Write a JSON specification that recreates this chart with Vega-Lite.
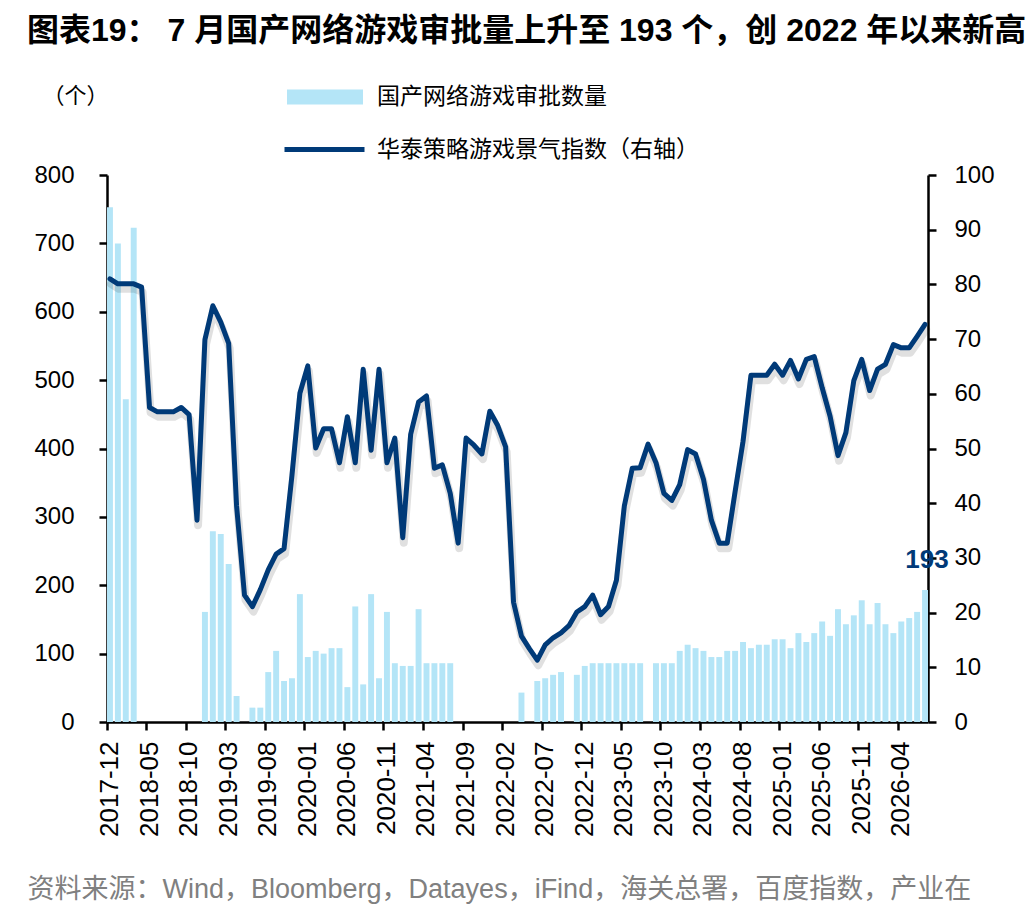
{
  "$schema": "https://vega.github.io/schema/vega-lite/v6.json",
  "width": 821,
  "height": 547,
  "autosize": {"type": "none"},
  "padding": {"left": 107, "top": 175, "right": 108, "bottom": 190},
  "background": "white",
  "config": {"view": {"stroke": null}},
  "title": {
    "text": "图表19： 7 月国产网络游戏审批量上升至 193 个，创 2022 年以来新高",
    "anchor": "start",
    "frame": "group",
    "font": "Liberation Sans, Noto Sans CJK SC",
    "fontSize": 32,
    "fontWeight": "bold",
    "color": "#000000",
    "dx": -80,
    "dy": -11,
    "offset": 0
  },
  "data": {
    "values": [
      {"m": "2017-12", "n": 753, "idx": 81.0},
      {"m": "2018-01", "n": 700, "idx": 80.1},
      {"m": "2018-02", "n": 472, "idx": 80.1},
      {"m": "2018-03", "n": 723, "idx": 80.1},
      {"m": "2018-04", "n": null, "idx": 79.5},
      {"m": "2018-05", "n": null, "idx": 57.5},
      {"m": "2018-06", "n": null, "idx": 56.7},
      {"m": "2018-07", "n": null, "idx": 56.7},
      {"m": "2018-08", "n": null, "idx": 56.7},
      {"m": "2018-09", "n": null, "idx": 57.5},
      {"m": "2018-10", "n": null, "idx": 56.2},
      {"m": "2018-11", "n": null, "idx": 36.9},
      {"m": "2018-12", "n": 161, "idx": 69.9},
      {"m": "2019-01", "n": 279, "idx": 76.1},
      {"m": "2019-02", "n": 275, "idx": 73.1},
      {"m": "2019-03", "n": 231, "idx": 69.2},
      {"m": "2019-04", "n": 38, "idx": 39.5},
      {"m": "2019-05", "n": null, "idx": 23.2},
      {"m": "2019-06", "n": 21, "idx": 21.1},
      {"m": "2019-07", "n": 21, "idx": 24.2},
      {"m": "2019-08", "n": 73, "idx": 27.8},
      {"m": "2019-09", "n": 104, "idx": 30.7},
      {"m": "2019-10", "n": 60, "idx": 31.7},
      {"m": "2019-11", "n": 64, "idx": 45.1},
      {"m": "2019-12", "n": 187, "idx": 60.1},
      {"m": "2020-01", "n": 95, "idx": 65.1},
      {"m": "2020-02", "n": 104, "idx": 50.1},
      {"m": "2020-03", "n": 100, "idx": 53.6},
      {"m": "2020-04", "n": 108, "idx": 53.6},
      {"m": "2020-05", "n": 108, "idx": 47.4},
      {"m": "2020-06", "n": 51, "idx": 55.8},
      {"m": "2020-07", "n": 169, "idx": 47.4},
      {"m": "2020-08", "n": 55, "idx": 64.5},
      {"m": "2020-09", "n": 187, "idx": 49.7},
      {"m": "2020-10", "n": 64, "idx": 64.5},
      {"m": "2020-11", "n": 161, "idx": 47.4},
      {"m": "2020-12", "n": 86, "idx": 51.9},
      {"m": "2021-01", "n": 82, "idx": 33.7},
      {"m": "2021-02", "n": 82, "idx": 52.6},
      {"m": "2021-03", "n": 165, "idx": 58.5},
      {"m": "2021-04", "n": 86, "idx": 59.6},
      {"m": "2021-05", "n": 86, "idx": 46.4},
      {"m": "2021-06", "n": 86, "idx": 47.0},
      {"m": "2021-07", "n": 86, "idx": 41.8},
      {"m": "2021-08", "n": null, "idx": 32.7},
      {"m": "2021-09", "n": null, "idx": 51.9},
      {"m": "2021-10", "n": null, "idx": 50.6},
      {"m": "2021-11", "n": null, "idx": 49.0},
      {"m": "2021-12", "n": null, "idx": 56.8},
      {"m": "2022-01", "n": null, "idx": 54.2},
      {"m": "2022-02", "n": null, "idx": 50.3},
      {"m": "2022-03", "n": null, "idx": 21.9},
      {"m": "2022-04", "n": 43, "idx": 15.7},
      {"m": "2022-05", "n": null, "idx": 13.4},
      {"m": "2022-06", "n": 60, "idx": 11.3},
      {"m": "2022-07", "n": 64, "idx": 14.1},
      {"m": "2022-08", "n": 69, "idx": 15.4},
      {"m": "2022-09", "n": 73, "idx": 16.3},
      {"m": "2022-10", "n": null, "idx": 17.6},
      {"m": "2022-11", "n": 69, "idx": 20.1},
      {"m": "2022-12", "n": 82, "idx": 21.1},
      {"m": "2023-01", "n": 86, "idx": 23.2},
      {"m": "2023-02", "n": 86, "idx": 19.6},
      {"m": "2023-03", "n": 86, "idx": 21.1},
      {"m": "2023-04", "n": 86, "idx": 25.9},
      {"m": "2023-05", "n": 86, "idx": 39.5},
      {"m": "2023-06", "n": 86, "idx": 46.4},
      {"m": "2023-07", "n": 86, "idx": 46.5},
      {"m": "2023-08", "n": null, "idx": 50.8},
      {"m": "2023-09", "n": 86, "idx": 47.4},
      {"m": "2023-10", "n": 86, "idx": 41.8},
      {"m": "2023-11", "n": 86, "idx": 40.5},
      {"m": "2023-12", "n": 104, "idx": 43.4},
      {"m": "2024-01", "n": 113, "idx": 49.8},
      {"m": "2024-02", "n": 108, "idx": 49.0},
      {"m": "2024-03", "n": 104, "idx": 44.4},
      {"m": "2024-04", "n": 95, "idx": 36.9},
      {"m": "2024-05", "n": 95, "idx": 32.7},
      {"m": "2024-06", "n": 104, "idx": 32.7},
      {"m": "2024-07", "n": 104, "idx": 42.1},
      {"m": "2024-08", "n": 117, "idx": 51.3},
      {"m": "2024-09", "n": 108, "idx": 63.4},
      {"m": "2024-10", "n": 113, "idx": 63.4},
      {"m": "2024-11", "n": 113, "idx": 63.4},
      {"m": "2024-12", "n": 121, "idx": 65.4},
      {"m": "2025-01", "n": 121, "idx": 63.4},
      {"m": "2025-02", "n": 108, "idx": 66.1},
      {"m": "2025-03", "n": 130, "idx": 62.7},
      {"m": "2025-04", "n": 117, "idx": 66.3},
      {"m": "2025-05", "n": 130, "idx": 66.8},
      {"m": "2025-06", "n": 147, "idx": 61.1},
      {"m": "2025-07", "n": 126, "idx": 55.9},
      {"m": "2025-08", "n": 165, "idx": 48.7},
      {"m": "2025-09", "n": 143, "idx": 52.9},
      {"m": "2025-10", "n": 156, "idx": 62.4},
      {"m": "2025-11", "n": 178, "idx": 66.3},
      {"m": "2025-12", "n": 143, "idx": 60.6},
      {"m": "2026-01", "n": 174, "idx": 64.5},
      {"m": "2026-02", "n": 143, "idx": 65.4},
      {"m": "2026-03", "n": 130, "idx": 69.0},
      {"m": "2026-04", "n": 147, "idx": 68.4},
      {"m": "2026-05", "n": 152, "idx": 68.4},
      {"m": "2026-06", "n": 161, "idx": 70.5},
      {"m": "2026-07", "n": 193, "idx": 72.7}
    ]
  },
  "layer": [
    {
      "encoding": {
        "x": {
          "field": "m",
          "type": "ordinal",
          "scale": {"type": "band", "paddingInner": 0.25, "paddingOuter": 0},
          "axis": {
            "values": ["2017-12", "2018-05", "2018-10", "2019-03", "2019-08", "2020-01", "2020-06", "2020-11", "2021-04", "2021-09", "2022-02", "2022-07", "2022-12", "2023-05", "2023-10", "2024-03", "2024-08", "2025-01", "2025-06", "2025-11", "2026-04"],
            "bandPosition": 0,
            "labelAngle": -90,
            "labelFont": "Liberation Sans",
            "labelFontSize": 26,
            "labelColor": "#000000",
            "labelPadding": 11,
            "labelOverlap": false,
            "tickSize": 8,
            "tickWidth": 2.5,
            "tickColor": "#000000",
            "domainColor": "#000000",
            "domainWidth": 2.5,
            "title": "资料来源：Wind，Bloomberg，Datayes，iFind，海关总署，百度指数，产业在",
            "titleAngle": 0,
            "titleX": -80,
            "titleY": 167,
            "titleAlign": "left",
            "titleBaseline": "middle",
            "titleFont": "Liberation Sans, Noto Sans CJK SC",
            "titleFontSize": 27,
            "titleFontWeight": "normal",
            "titleColor": "#808080",
            "titleLimit": 1100
          }
        },
        "y": {
          "field": "n",
          "type": "quantitative",
          "scale": {"domain": [0, 800], "nice": false},
          "axis": {
            "values": [0, 100, 200, 300, 400, 500, 600, 700, 800],
            "grid": false,
            "labelFont": "Liberation Sans",
            "labelFontSize": 24,
            "labelColor": "#000000",
            "labelAlign": "right",
            "labelPadding": 25,
            "tickSize": 8,
            "tickWidth": 2.5,
            "tickColor": "#000000",
            "domainColor": "#000000",
            "domainWidth": 2.5,
            "title": "（个）",
            "titleAngle": 0,
            "titleX": -32,
            "titleY": -80,
            "titleAlign": "center",
            "titleBaseline": "middle",
            "titleFont": "Noto Sans CJK SC",
            "titleFontSize": 22,
            "titleFontWeight": "normal",
            "titleColor": "#000000"
          }
        }
      },
      "layer": [
        {
          "transform": [{"filter": "datum.n != null"}],
          "mark": {"type": "bar"},
          "encoding": {
            "fill": {
              "datum": "国产网络游戏审批数量",
              "scale": {"range": ["#b4e5f7"]},
              "legend": {
                "orient": "none",
                "legendX": 180,
                "legendY": -116,
                "title": null,
                "padding": 0,
                "symbolType": "M-1,-0.2H1V0.2H-1Z",
                "symbolSize": 5776,
                "symbolStrokeWidth": 0,
                "labelFont": "Noto Sans CJK SC",
                "labelFontSize": 23,
                "labelColor": "#000000",
                "labelOffset": 14,
                "labelLimit": 600
              }
            }
          }
        },
        {
          "transform": [{"filter": "datum.m == '2026-07'"}],
          "mark": {"type": "text", "font": "Liberation Sans", "fontSize": 26, "fontWeight": "bold", "color": "#003a78", "baseline": "alphabetic", "dy": -22, "dx": 2},
          "encoding": {"text": {"field": "n", "type": "quantitative"}}
        }
      ]
    },
    {
      "encoding": {
        "x": {"field": "m", "type": "ordinal"},
        "y": {
          "field": "idx",
          "type": "quantitative",
          "scale": {"domain": [0, 100], "nice": false},
          "axis": {
            "orient": "right",
            "values": [0, 10, 20, 30, 40, 50, 60, 70, 80, 90, 100],
            "grid": false,
            "labelFont": "Liberation Sans",
            "labelFontSize": 24,
            "labelColor": "#000000",
            "labelPadding": 18,
            "tickSize": 8,
            "tickWidth": 2.5,
            "tickColor": "#000000",
            "domainColor": "#000000",
            "domainWidth": 2.5,
            "title": null
          }
        }
      },
      "layer": [
        {
          "mark": {"type": "line", "strokeWidth": 8, "strokeJoin": "round", "strokeCap": "round", "color": "#000000", "opacity": 0.12},
          "encoding": {"xOffset": {"value": 4}, "yOffset": {"value": 5}}
        },
        {
          "mark": {"type": "line", "strokeWidth": 5, "strokeJoin": "round", "strokeCap": "round"},
          "encoding": {
            "stroke": {
              "datum": "华泰策略游戏景气指数（右轴）",
              "scale": {"range": ["#003a78"]},
              "legend": {
                "orient": "none",
                "legendX": 175,
                "legendY": -68,
                "title": null,
                "padding": 0,
                "symbolType": "stroke",
                "symbolSize": 6400,
                "symbolStrokeWidth": 5,
                "labelFont": "Noto Sans CJK SC",
                "labelFontSize": 23,
                "labelColor": "#000000",
                "labelOffset": 10,
                "labelLimit": 600
              }
            }
          }
        }
      ]
    }
  ],
  "resolve": {"scale": {"y": "independent"}, "axis": {"y": "independent"}}
}
